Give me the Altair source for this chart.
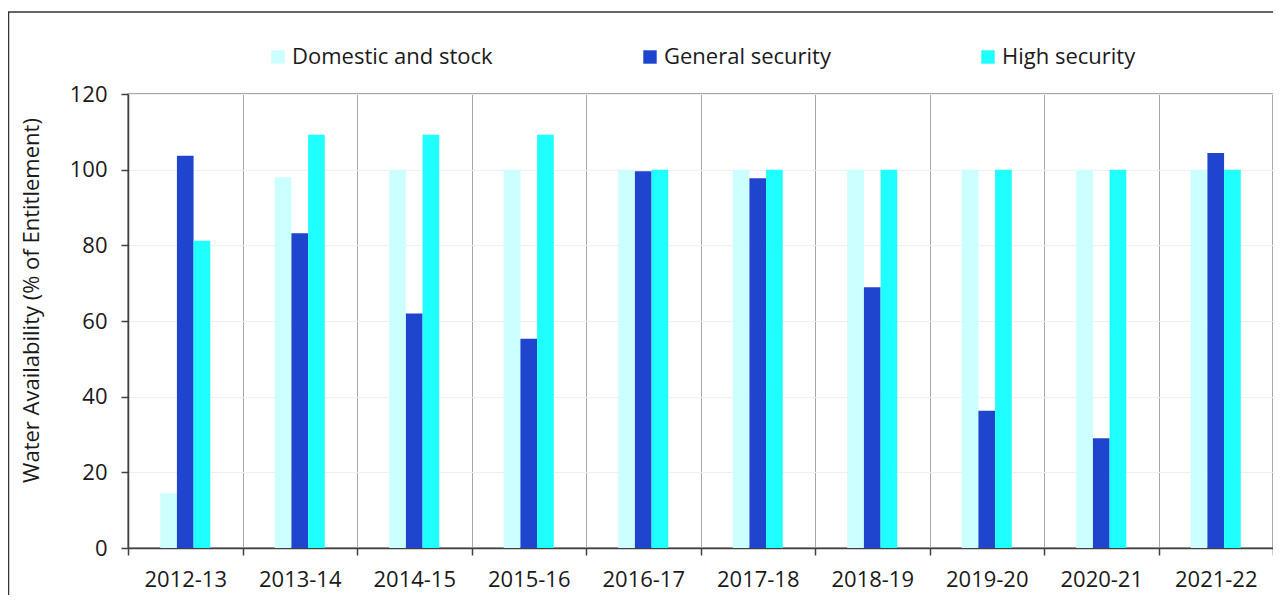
import altair as alt
import pandas as pd

years = ["2012-13", "2013-14", "2014-15", "2015-16", "2016-17",
         "2017-18", "2018-19", "2019-20", "2020-21", "2021-22"]
series = ["Domestic and stock", "General security", "High security"]
domestic = [14.5, 98.0, 100, 100, 100, 100, 100, 100, 100, 100]
general = [103.7, 83.2, 62.0, 55.3, 99.6, 97.7, 68.9, 36.3, 29.0, 104.4]
high = [81.2, 109.2, 109.2, 109.2, 100, 100, 100, 100, 100, 100]
colors = ["#CCFFFF", "#1F45CF", "#1FFFFF"]
y_ticks = [0, 20, 40, 60, 80, 100, 120]

rows = []
for i, yr in enumerate(years):
    for s, vals in zip(series, [domestic, general, high]):
        rows.append({"year": yr, "series": s, "value": vals[i]})
df = pd.DataFrame(rows)

FONT = "Open Sans"
TXT = "#1a1a1a"
W, H = 1145, 454
offset_domain = ["_pad_left"] + series + ["_pad_right"]

bars = alt.Chart(df).mark_bar().encode(
    x=alt.X("year:N", sort=years, title=None,
            scale=alt.Scale(paddingInner=0, paddingOuter=0),
            axis=alt.Axis(labelAngle=0, tickBand="extent", grid=True,
                          gridColor="#a6a6a6", gridWidth=1,
                          domainColor="#404040", domainWidth=1.5,
                          tickColor="#404040", tickSize=7, tickWidth=1.5,
                          labelPadding=14, labelFontSize=22, labelColor=TXT,
                          labelFont=FONT)),
    xOffset=alt.XOffset("series:N",
                        scale=alt.Scale(domain=offset_domain, paddingInner=0,
                                        paddingOuter=0.935)),
    y=alt.Y("value:Q", scale=alt.Scale(domain=[0, 120], nice=False),
            axis=alt.Axis(values=y_ticks, title="Water Availability (% of Entitlement)",
                          grid=True, gridColor="#efefef",
                          domainColor="#404040", domainWidth=1.5,
                          tickColor="#404040", tickSize=7, tickWidth=1.5,
                          labelPadding=14, labelFontSize=22, labelColor=TXT,
                          labelFont=FONT,
                          titleFont=FONT, titleFontSize=22, titleFontWeight="normal",
                          titleColor=TXT, titleX=-97, titleY=206,
                          titleAlign="center", titleBaseline="middle")),
    color=alt.Color("series:N", sort=series,
                    scale=alt.Scale(domain=series, range=colors),
                    legend=alt.Legend(title=None, orient="none", direction="horizontal",
                                      legendX=139, legendY=-48, padding=0,
                                      columnPadding=146, gridAlign="each",
                                      symbolType="square", symbolSize=180,
                                      symbolStrokeWidth=0, labelFontSize=22,
                                      labelLimit=500,
                                      labelFont=FONT, labelColor=TXT, labelOffset=3))
)

border = alt.Chart(pd.DataFrame({"a": [0]})).mark_rect(
    fillOpacity=0, stroke="#333333", strokeWidth=1.5
).encode(x=alt.value(-119.5), x2=alt.value(1300), y=alt.value(-82), y2=alt.value(700))

chart = alt.layer(bars, border).properties(
    width=W, height=H,
    autosize=alt.AutoSizeParams(type="none"),
    padding={"left": 120, "top": 86, "right": 0, "bottom": 47},
).configure_view(stroke="#8c8c8c", strokeWidth=1.5)

chart.save("out.html", embed_options={"renderer": "svg", "actions": False})
